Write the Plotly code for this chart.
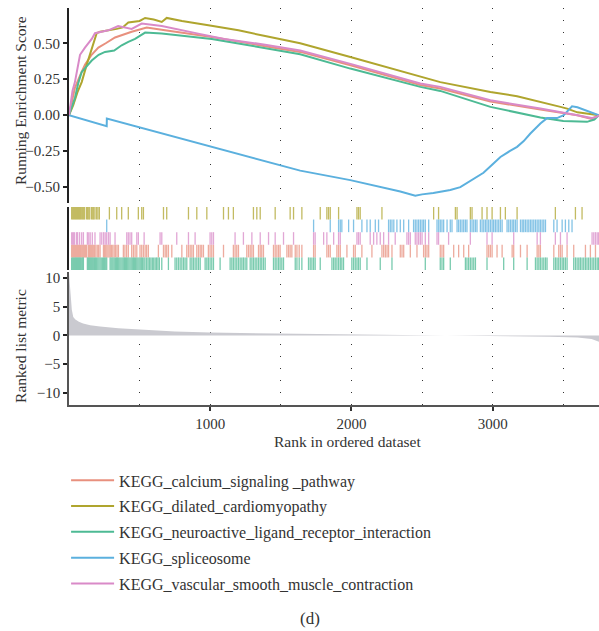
import plotly.graph_objects as go

# ---------------- data ----------------
set_names = [
    "KEGG_calcium_signaling _pathway",
    "KEGG_dilated_cardiomyopathy",
    "KEGG_neuroactive_ligand_receptor_interaction",
    "KEGG_spliceosome",
    "KEGG_vascular_smooth_muscle_contraction",
]
set_colors = ["#E8907E", "#AFA52E", "#4DBA94", "#5BB0DE", "#D98AC8"]

# running enrichment score waypoints (rank, score)
calcium_rank = [0, 20, 42, 80, 113, 160, 208, 260, 326, 444, 550, 680, 1011, 1389, 1637, 2000, 2488, 2629, 2984, 3338, 3480, 3600, 3700, 3753]
calcium_es = [0, 0.10, 0.19, 0.28, 0.35, 0.42, 0.47, 0.50, 0.54, 0.58, 0.61, 0.59, 0.544, 0.48, 0.44, 0.345, 0.21, 0.185, 0.095, 0.04, 0.02, 0.0, -0.025, 0]

dilated_rank = [0, 15, 30, 60, 90, 125, 161, 184, 196, 220, 290, 338, 380, 420, 500, 515, 539, 600, 657, 692, 800, 987, 1200, 1389, 1637, 1992, 2488, 2629, 2984, 3173, 3480, 3527, 3600, 3680, 3753]
dilated_es = [0, 0.03, 0.07, 0.16, 0.23, 0.35, 0.46, 0.54, 0.57, 0.58, 0.59, 0.60, 0.61, 0.645, 0.655, 0.665, 0.676, 0.665, 0.648, 0.676, 0.655, 0.625, 0.59, 0.55, 0.50, 0.405, 0.266, 0.23, 0.162, 0.132, 0.058, 0.046, 0.02, 0.01, 0]

neuro_rank = [0, 20, 42, 65, 90, 125, 161, 210, 255, 320, 373, 420, 468, 539, 657, 1011, 1389, 1637, 1992, 2488, 2629, 2984, 3338, 3500, 3668, 3720, 3753]
neuro_es = [0, 0.06, 0.12, 0.22, 0.30, 0.34, 0.38, 0.42, 0.44, 0.45, 0.486, 0.51, 0.53, 0.574, 0.567, 0.53, 0.467, 0.424, 0.324, 0.197, 0.169, 0.058, -0.016, -0.04, -0.046, -0.03, 0]

splice_rank = [0, 267, 268, 1637, 1992, 2346, 2452, 2500, 2580, 2700, 2771, 2850, 2935, 3000, 3055, 3120, 3173, 3220, 3267, 3338, 3385, 3420, 3456, 3503, 3562, 3600, 3740, 3753]
splice_es = [0, -0.076, -0.023, -0.385, -0.451, -0.53, -0.56, -0.55, -0.54, -0.52, -0.50, -0.45, -0.40, -0.34, -0.29, -0.25, -0.22, -0.18, -0.127, -0.057, -0.02, -0.02, -0.02, 0.0, 0.062, 0.055, 0.005, 0]

vascular_rank = [0, 10, 25, 42, 60, 78, 113, 140, 161, 184, 230, 278, 348, 444, 515, 657, 915, 1100, 1389, 1637, 2000, 2488, 2629, 2984, 3338, 3480, 3600, 3700, 3740, 3753]
vascular_es = [0, 0.08, 0.17, 0.23, 0.33, 0.42, 0.47, 0.50, 0.53, 0.57, 0.58, 0.59, 0.62, 0.60, 0.637, 0.62, 0.567, 0.53, 0.49, 0.45, 0.355, 0.22, 0.197, 0.104, 0.046, 0.023, 0.0, -0.02, -0.01, 0]

# hit positions (ranks) per gene set
calcium_hits = [19, 26, 33, 40, 47, 54, 61, 68, 75, 82, 90, 97, 104, 111, 118, 125, 137, 144, 151, 158, 165, 172, 180, 190, 200, 210, 220,
                244, 252, 260, 268, 276, 284, 292, 300, 310, 320, 330, 340, 350, 385, 396, 408, 420, 444, 456, 468, 480, 503, 515, 527,
                539, 550, 562, 633, 669, 681, 692, 704, 728, 799, 834, 846, 858, 870, 881, 905, 917, 929, 940, 952, 987, 999, 1011, 1023,
                1094, 1164, 1176, 1188, 1200, 1259, 1271, 1283, 1295, 1306, 1342, 1354, 1365, 1377, 1448, 1460, 1472, 1484, 1495, 1543,
                1555, 1566, 1578, 1602, 1614, 1630, 1649, 1732, 1743, 1826, 1838, 1850, 1897, 1909, 1921, 1968, 2015, 2027, 2074, 2145,
                2216, 2228, 2240, 2252, 2263, 2287, 2346, 2358, 2370, 2417, 2464, 2511, 2523, 2535, 2547, 2629, 2641, 2653, 2724, 2759,
                2795, 2830, 2960, 2972, 2984, 2996, 3031, 3067, 3138, 3149, 3197, 3244, 3315, 3327, 3338, 3433, 3468, 3480, 3492, 3527,
                3574, 3657, 3692, 3728]
dilated_hits = [19, 26, 33, 40, 47, 54, 61, 68, 75, 82, 90, 97, 104, 111, 125, 132, 140, 147, 160, 168, 175, 184, 196, 205, 215,
                286, 338, 373, 420, 491, 515, 527, 669, 692, 846, 905, 976, 1094, 1129, 1164, 1306, 1330, 1354, 1460, 1566, 1590,
                1649, 1779, 1826, 1838, 1850, 1909, 2039, 2050, 2062, 2216, 2582, 2617, 2736, 2748, 2842, 2854, 2925, 2960, 2996,
                3055, 3090, 3173, 3444, 3586, 3633]
neuro_hits = [19, 26, 33, 40, 47, 54, 61, 68, 75, 82, 90, 97, 102, 130, 137, 144, 151, 158, 165, 172, 180, 188, 196, 204, 212, 220,
              228, 236, 244, 252, 260, 267, 291, 298, 305, 312, 320, 328, 336, 344, 352, 360, 368, 376, 384, 392, 400, 408, 416, 424,
              432, 440, 448, 456, 464, 472, 480, 488, 496, 504, 512, 520, 530, 538, 550, 560, 570, 580, 590, 600, 610, 620, 630, 640,
              657, 704, 751, 763, 775, 787, 799, 811, 822, 834, 858, 870, 881, 893, 905, 917, 929, 964, 976, 987, 999, 1011, 1023,
              1070, 1141, 1153, 1164, 1176, 1188, 1200, 1212, 1224, 1235, 1247, 1259, 1283, 1295, 1306, 1318, 1330, 1342, 1354, 1365,
              1377, 1389, 1448, 1460, 1472, 1484, 1495, 1507, 1519, 1602, 1614, 1630, 1649, 1696, 1708, 1720, 1732, 1743, 1779, 1862,
              1874, 1885, 1897, 1909, 1921, 1932, 1944, 2003, 2015, 2027, 2039, 2050, 2062, 2110, 2204, 2287, 2523, 2629, 2641, 2653,
              2700, 2807, 2818, 2830, 2842, 2854, 2866, 2878, 2960, 3078, 3149, 3244, 3303, 3315, 3327, 3338, 3350, 3362, 3374, 3385,
              3433, 3445, 3456, 3468, 3480, 3492, 3503, 3515, 3527, 3574, 3586, 3598, 3610, 3621, 3633, 3645, 3657, 3668, 3680, 3692,
              3704, 3716, 3728, 3740, 3750]
splice_hits = [267, 1732, 1850, 1909, 1921, 1932, 1980, 2015, 2074, 2110, 2133, 2169, 2192, 2263, 2275, 2287, 2300, 2322, 2346, 2370,
               2405, 2440, 2452, 2464, 2476, 2488, 2500, 2511, 2523, 2547, 2606, 2618, 2629, 2641, 2653, 2677, 2700, 2712, 2748, 2759,
               2771, 2783, 2795, 2807, 2818, 2842, 2854, 2866, 2878, 2889, 2913, 2925, 2937, 2949, 2960, 2972, 2984, 2996, 3007, 3019,
               3031, 3043, 3055, 3067, 3102, 3114, 3126, 3138, 3149, 3161, 3173, 3197, 3209, 3220, 3232, 3244, 3256, 3268, 3279, 3291,
               3303, 3315, 3327, 3338, 3350, 3362, 3374, 3433, 3456, 3492, 3515, 3539, 3562]
vascular_hits = [19, 26, 33, 40, 54, 61, 75, 90, 102, 130, 140, 150, 165, 184, 220, 232, 245, 256, 267, 280, 291, 326, 409, 420, 432,
                 444, 480, 491, 532, 645, 657, 763, 846, 893, 999, 1011, 1023, 1176, 1235, 1295, 1354, 1413, 1460, 1519, 1590, 1732,
                 1743, 1803, 1826, 1874, 1909, 1921, 2039, 2050, 2062, 2133, 2157, 2180, 2204, 2228, 2263, 2310, 2393, 2405, 2417, 2452,
                 2464, 2476, 2488, 2500, 2523, 2547, 2606, 2617, 2688, 2842, 2960, 2996, 3149, 3315, 3338, 3444, 3480, 3527, 3704, 3716,
                 3728, 3740, 3750]

# ranked list metric (rank, value)
metric_rank = [0, 5, 10, 20, 30, 45, 70, 100, 150, 220, 350, 500, 750, 1000, 1500, 2000, 2500, 2900, 3100, 3400, 3600, 3700, 3753]
metric_val = [10.8, 9.0, 7.0, 4.5, 3.2, 2.8, 2.4, 2.1, 1.8, 1.55, 1.25, 1.05, 0.7, 0.5, 0.35, 0.25, 0.15, 0.02, -0.05, -0.2, -0.35, -0.6, -1.1]

es_ticks = [-0.5, -0.25, 0, 0.25, 0.5]
es_ticktext = ["\u22120.50", "\u22120.25", "0.00", "0.25", "0.50"]
metric_ticks = [-10, -5, 0, 5, 10]
metric_ticktext = ["\u221210", "\u22125", "0", "5", "10"]
rank_ticks = [1000, 2000, 3000]
caption = "(d)"

curves = [(calcium_rank, calcium_es), (dilated_rank, dilated_es), (neuro_rank, neuro_es),
          (splice_rank, splice_es), (vascular_rank, vascular_es)]
hits = [calcium_hits, dilated_hits, neuro_hits, splice_hits, vascular_hits]
hit_row = [1, 4, 0, 3, 2]  # row base in the middle panel (0 = bottom)

# ---------------- figure ----------------
FONT = "Liberation Serif"
TXT = "#333333"
fig = go.Figure()

for i, (rk, es) in enumerate(curves):
    fig.add_trace(go.Scatter(x=rk, y=es, mode="lines", name=set_names[i],
                             line=dict(color=set_colors[i], width=2),
                             legendgroup=str(i), xaxis="x", yaxis="y"))

# hit ticks: one vertical 1px segment per hit
for i, h in enumerate(hits):
    xs, ys = [], []
    for r in h:
        xs += [r, r, None]
        ys += [hit_row[i], hit_row[i] + 1, None]
    fig.add_trace(go.Scatter(x=xs, y=ys, mode="lines",
                             line=dict(color=set_colors[i], width=1.3), opacity=0.75,
                             showlegend=False, xaxis="x2", yaxis="y2", hoverinfo="skip"))

fig.add_trace(go.Scatter(x=metric_rank, y=metric_val, mode="lines", fill="tozeroy",
                         line=dict(width=0, color="#CACAD0"), fillcolor="#CACAD0",
                         showlegend=False, xaxis="x3", yaxis="y3"))

xr = [0, 3753]
grid = dict(showgrid=True, gridcolor="#333333", griddash="1px,11px", gridwidth=1.2)
fig.update_layout(
    width=599, height=631,
    margin=dict(l=69, r=0, t=8, b=226),
    paper_bgcolor="white", plot_bgcolor="white",
    font=dict(family=FONT, size=15, color=TXT),
    xaxis=dict(domain=[0, 1], range=xr, anchor="y", showticklabels=False, ticks="",
               dtick=500, tick0=0, zeroline=False, showline=False, **grid),
    xaxis2=dict(domain=[0, 1], range=xr, anchor="y2", showticklabels=False, ticks="",
                showgrid=False, zeroline=False, showline=False),
    xaxis3=dict(domain=[0, 1], range=xr, anchor="y3", tickvals=rank_ticks, ticks="outside",
                ticklen=4, tickwidth=1.5, tickcolor="#333", zeroline=False,
                showline=True, linecolor="#555", linewidth=1.5,
                tickfont=dict(size=15, color=TXT),
                minor=dict(dtick=500, tick0=0, showgrid=True, gridcolor="#333333",
                           griddash="1px,11px", gridwidth=1.2),
                **grid),
    yaxis=dict(domain=[0.5088, 1], range=[-0.61, 0.745], tickvals=es_ticks, ticktext=es_ticktext,
               ticks="outside", ticklen=4, tickwidth=1.5, tickcolor="#222", showline=True,
               linecolor="#222", linewidth=2, showgrid=False, zeroline=False,
               tickfont=dict(size=15, color=TXT)),
    yaxis2=dict(domain=[0.340, 0.499], range=[0, 5], showticklabels=False, ticks="",
                showline=True, linecolor="#222", linewidth=2, showgrid=False, zeroline=False),
    yaxis3=dict(domain=[0, 0.335], range=[-12.1, 11.05], tickvals=metric_ticks, ticktext=metric_ticktext,
                ticks="outside", ticklen=4, tickwidth=1.5, tickcolor="#222", showline=True,
                linecolor="#555", linewidth=1.5, showgrid=False, zeroline=False,
                tickfont=dict(size=15, color=TXT)),
    legend=dict(x=-0.0055, xanchor="left", y=-0.147, yanchor="top", orientation="v",
                font=dict(family=FONT, size=16, color=TXT), tracegroupgap=2,
                bgcolor="rgba(0,0,0,0)", itemwidth=43),
    annotations=[
        dict(text="Running Enrichment Score", x=-0.0925, y=0.768, xref="paper", yref="paper",
             textangle=-90, showarrow=False, xanchor="center", yanchor="middle", font=dict(size=15.5)),
        dict(text="Ranked list metric", x=-0.0905, y=0.149, xref="paper", yref="paper",
             textangle=-90, showarrow=False, xanchor="center", yanchor="middle", font=dict(size=15.5)),
        dict(text="Rank in ordered dataset", x=0.5255, y=-0.0907, xref="paper", yref="paper",
             showarrow=False, xanchor="center", yanchor="middle", font=dict(size=15.5)),
        dict(text=caption, x=0.4547, y=-0.539, xref="paper", yref="paper",
             showarrow=False, xanchor="center", yanchor="middle", font=dict(size=17)),
    ],
)

fig.write_html("out.html")
